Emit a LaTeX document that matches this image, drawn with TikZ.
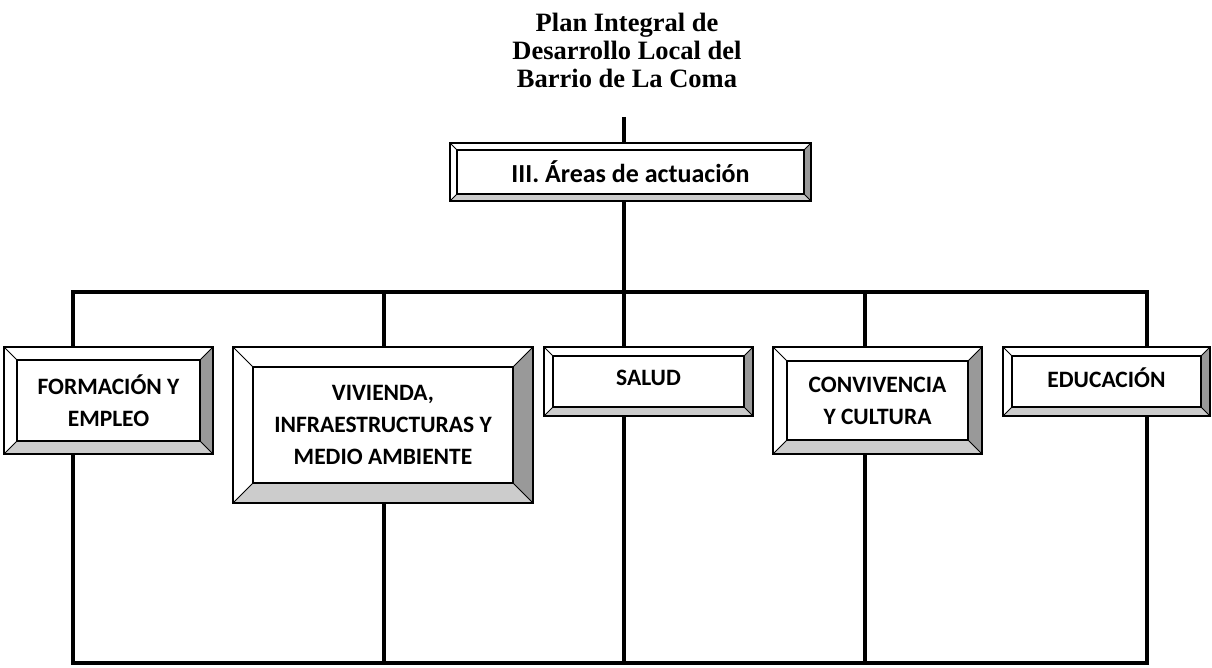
\documentclass[tikz,border=0pt]{standalone}
\usepackage{fontspec}
\newfontfamily\carlito{Carlito}
\newfontfamily\libserif{Liberation Serif}
\usetikzlibrary{calc}
\definecolor{bevdark}{gray}{0.6}
\definecolor{bevlight}{gray}{0.8}

\begin{document}
\begin{tikzpicture}[
		x=1pt, y=-1pt,
		conn/.style={black, line width=3.2pt},
		box/.style={draw=black, line width=1.6pt, fill=white, inner sep=0pt, align=center,
			font=\carlito\bfseries\fontsize{23.5}{32}\selectfont,
			path picture={
				\coordinate (pA) at (path picture bounding box.north west);
				\coordinate (pC) at (path picture bounding box.south east);
				\coordinate (pB) at (pA -| pC);
				\coordinate (pD) at (pA |- pC);
				\fill[bevdark] (pB) -- (pC) -- ($(pC)+(-#1pt,#1pt)$) -- ($(pB)+(-#1pt,-#1pt)$) -- cycle;
				\fill[bevlight] (pD) -- (pC) -- ($(pC)+(-#1pt,#1pt)$) -- ($(pD)+(#1pt,#1pt)$) -- cycle;
				\draw[line width=1.6pt] ($(pA)+(#1pt,-#1pt)$) rectangle ($(pC)+(-#1pt,#1pt)$);
				\draw[line width=0.8pt] (pA) -- ++(#1pt,-#1pt) (pB) -- ++(-#1pt,-#1pt)
					(pC) -- ++(-#1pt,#1pt) (pD) -- ++(#1pt,#1pt);
			}}]
		\useasboundingbox (0,0) rectangle (1212,668);
		\path 	(627,50) 	node 	(title) [font=\libserif\bfseries\fontsize{26.5}{28}\selectfont, align=center]
					{Plan Integral de\\Desarrollo Local del\\Barrio de La Coma}
		        (630.5,172) 	node 	(areas) [box=7, minimum width=361pt, minimum height=58pt,
					font=\carlito\bfseries\fontsize{26}{32}\selectfont] {III. Áreas de actuación}
		        (108.5,400.5) 	node 	(form) [box=13, minimum width=209pt, minimum height=107pt] {FORMACIÓN Y\\EMPLEO}
		        (383,425) 	node 	(viv) [box=20, minimum width=300pt, minimum height=156pt] {VIVIENDA,\\INFRAESTRUCTURAS Y\\MEDIO AMBIENTE}
		        (648.5,381.5) 	node 	(salud) [box=9, minimum width=209pt, minimum height=69pt, text depth=8pt] {SALUD}
		        (877.5,400.5) 	node 	(conv) [box=14, minimum width=209pt, minimum height=107pt] {CONVIVENCIA\\Y CULTURA}
		        (1106.5,381.5) 	node 	(edu) [box=9, minimum width=207pt, minimum height=69pt, text depth=8pt] {EDUCACIÓN};
		\foreach \x [count=\i] in {73,384,624,865,1147} {
			\coordinate (t\i) at (\x,292);
			\coordinate (b\i) at (\x,663);
		}
		\draw [conn, shorten <=26pt] (title.south -| t3) -- (t3 |- areas.north);
		\draw [conn] (t3 |- areas.south) -- (t3);
		\draw [conn] (t1 |- form.north) -- (t1) -- (t5) -- (t5 |- edu.north);
		\draw [conn] (t1 |- form.south) -- (b1) -- (b5) -- (t5 |- edu.south);
		\foreach \n [count=\i from 2] in {viv,salud,conv}
			\draw [conn] (t\i) -- (t\i |- \n.north) (t\i |- \n.south) -- (b\i);
	\end{tikzpicture}
\end{document}
